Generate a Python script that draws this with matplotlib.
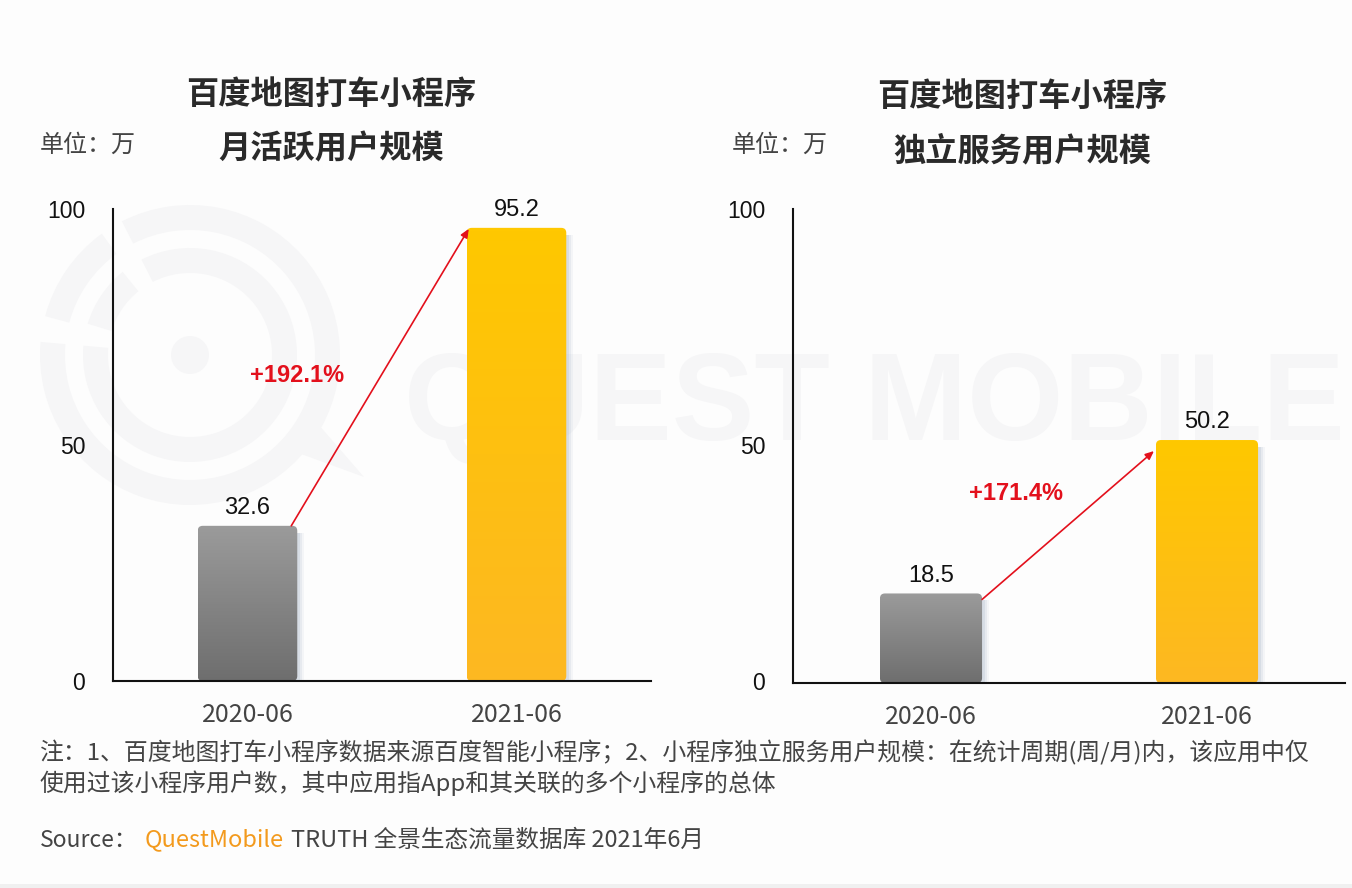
import numpy as np
import matplotlib
matplotlib.use('Agg')
import matplotlib.pyplot as plt
from matplotlib.colors import LinearSegmentedColormap
from matplotlib.patches import FancyBboxPatch, Wedge, Circle, Polygon, Rectangle
from matplotlib.transforms import ScaledTranslation

W, H = 1352, 888
CJK = ['Noto Sans CJK SC', 'DejaVu Sans']
LATIN = ['Liberation Sans', 'DejaVu Sans']
plt.rcParams['font.family'] = CJK

# 数据
categories = ['2020-06', '2021-06']
mau_values = [32.6, 95.2]
service_values = [18.5, 50.2]
y_ticks = [0, 50, 100]
mau_growth = '+192.1%'
service_growth = '+171.4%'

mau_title = ['百度地图打车小程序', '月活跃用户规模']
service_title = ['百度地图打车小程序', '独立服务用户规模']
unit_label = '单位：万'
note_lines = [
    '注：1、百度地图打车小程序数据来源百度智能小程序；2、小程序独立服务用户规模：在统计周期(周/月)内，该应用中仅',
    '使用过该小程序用户数，其中应用指App和其关联的多个小程序的总体',
]

GRAY_MAP = LinearSegmentedColormap.from_list('gray_bar', ['#9b9b9b', '#6e6e6e'])
YELLOW_MAP = LinearSegmentedColormap.from_list('yellow_bar', ['#ffc800', '#fdb822'])
RED = '#e3101c'
BAR_WIDTH = 0.37

fig = plt.figure(figsize=(W / 100, H / 100), dpi=100, facecolor='#fdfdfd')

# 背景层，像素坐标 (y 轴向下，所以角度取负)
bg = fig.add_axes([0, 0, 1, 1])
bg.set_xlim(0, W)
bg.set_ylim(H, 0)
bg.axis('off')

WM = '#f6f6f7'
WM_CENTER = (190, 355)
bg.add_patch(Wedge(WM_CENTER, 150, -117, -175, width=25, color=WM, lw=0))
bg.add_patch(Wedge(WM_CENTER, 150, -165, -126, width=25, color=WM, lw=0))
bg.add_patch(Wedge(WM_CENTER, 107, -117, -175, width=25, color=WM, lw=0))
bg.add_patch(Wedge(WM_CENTER, 107, -163, -129, width=25, color=WM, lw=0))
bg.add_patch(Circle(WM_CENTER, 19, color=WM, lw=0))
bg.add_patch(Polygon([(282, 447), (312, 417), (364, 477)], color=WM, lw=0))
bg.text(404, 408, 'QUEST MOBILE', fontsize=89, fontweight='bold', color=WM, va='center',
        ha='left', family=LATIN)
bg.add_patch(Rectangle((0, 884), W, 4, color='#f0f0f0', lw=0))


def draw_bar(ax, x, value, cmap, px_x, px_y):
    left = x - BAR_WIDTH / 2
    # 柱子右侧的阴影
    for off, alpha in zip([7, 5, 3], [0.12, 0.2, 0.3]):
        ax.add_patch(Rectangle((left + off / px_x, 0), BAR_WIDTH, value - 7 / px_y,
                               color='#b4c0d0', alpha=alpha, lw=0, zorder=1))
    patch = FancyBboxPatch((left, 0), BAR_WIDTH, value,
                           boxstyle=f'round,pad=0,rounding_size={5 / px_x}',
                           mutation_aspect=px_x / px_y, fc='none', ec='none', zorder=2)
    ax.add_patch(patch)
    grad = np.linspace(0, 1, 128).reshape(-1, 1)
    im = ax.imshow(grad, cmap=cmap, extent=(left, left + BAR_WIDTH, 0, value),
                   aspect='auto', origin='upper', zorder=2)
    im.set_clip_path(patch)


def draw_chart(box, values, top_px, arrow_in, tick_fix):
    x0, x1, y0 = box
    height = y0 - top_px
    ax = fig.add_axes([x0 / W, 1 - y0 / H, (x1 - x0) / W, height / H])
    ax.patch.set_alpha(0)
    px_x = (x1 - x0) / 2.0
    px_y = height / 100.0
    xs = np.arange(len(categories))

    draw_bar(ax, xs[0], values[0], GRAY_MAP, px_x, px_y)
    draw_bar(ax, xs[1], values[1], YELLOW_MAP, px_x, px_y)

    ax.set_xlim(-0.5, 1.5)
    ax.set_ylim(0, 100)
    ax.set_xticks(xs, categories)
    ax.set_yticks(y_ticks)
    ax.tick_params(axis='x', length=0, pad=15, labelsize=18, labelcolor='#444444')
    ax.tick_params(axis='y', length=0, pad=20, labelsize=16.5, labelcolor='#111111')
    for lab, fix in zip(ax.get_yticklabels(), tick_fix):
        lab.set_fontfamily(LATIN)
        lab.set_transform(lab.get_transform() + ScaledTranslation(0, -fix / 100, fig.dpi_scale_trans))

    for s in ['top', 'right']:
        ax.spines[s].set_visible(False)
    for s in ['left', 'bottom']:
        ax.spines[s].set_linewidth(1.5)
        ax.spines[s].set_color('#111111')
        ax.spines[s].set_zorder(5)
    ax.spines['left'].set_bounds(0, (y0 - 209) / px_y)

    for x, v in zip(xs, values):
        ax.annotate(f'{v}', (x, v), xytext=(0, 5), textcoords='offset points', ha='center',
                    va='bottom', fontsize=17, color='#111111', family=LATIN)

    # 增长箭头
    start = (xs[0] + BAR_WIDTH / 2 + arrow_in[0] / px_x, values[0] - arrow_in[1] / px_y)
    end = (xs[1] - BAR_WIDTH / 2 + arrow_in[2] / px_x, values[1] - arrow_in[3] / px_y)
    ax.annotate('', xy=end, xytext=start, zorder=4,
                arrowprops=dict(arrowstyle='-|>,head_length=0.5,head_width=0.22', color=RED,
                                lw=1.2, shrinkA=0, shrinkB=0))
    return ax


draw_chart((113, 651, 681), mau_values, 205, (-6, 0, 2, 1), (0, 2, 4))
draw_chart((793, 1345, 683), service_values, 199, (0, 6, -2, 11), (-2, 4, 10))

# 标题和文字，像素坐标
fg = fig.add_axes([0, 0, 1, 1])
fg.set_xlim(0, W)
fg.set_ylim(H, 0)
fg.axis('off')

TITLE_COLOR = '#2a2a2a'
for cx, ys, lines in [(331, (94, 149), mau_title), (1022, (96, 151), service_title)]:
    for y, line in zip(ys, lines):
        fg.text(cx, y, line, fontsize=23.2, fontweight='bold', color=TITLE_COLOR,
                ha='center', va='center')

fg.text(40, 145, unit_label, fontsize=17.3, color='#444444', va='center')
fg.text(732, 145, unit_label, fontsize=17.3, color='#444444', va='center')

fg.text(297, 375, mau_growth, fontsize=17, fontweight='bold', color=RED, ha='center',
        va='center', family=LATIN)
fg.text(1016, 493, service_growth, fontsize=17, fontweight='bold', color=RED, ha='center',
        va='center', family=LATIN)

fg.text(40, 753, note_lines[0], fontsize=17.2, color='#444444', va='center')
fg.text(40, 783, note_lines[1], fontsize=17.2, color='#444444', va='center')

fg.text(40, 840, 'Source：', fontsize=16.5, color='#444444', va='center')
fg.text(145, 840, 'QuestMobile', fontsize=17, color='#f39a1d', va='center')
fg.text(291, 840, 'TRUTH 全景生态流量数据库 2021年6月', fontsize=17, color='#444444', va='center')

fig.savefig('out.png', dpi=100, facecolor=fig.get_facecolor())
